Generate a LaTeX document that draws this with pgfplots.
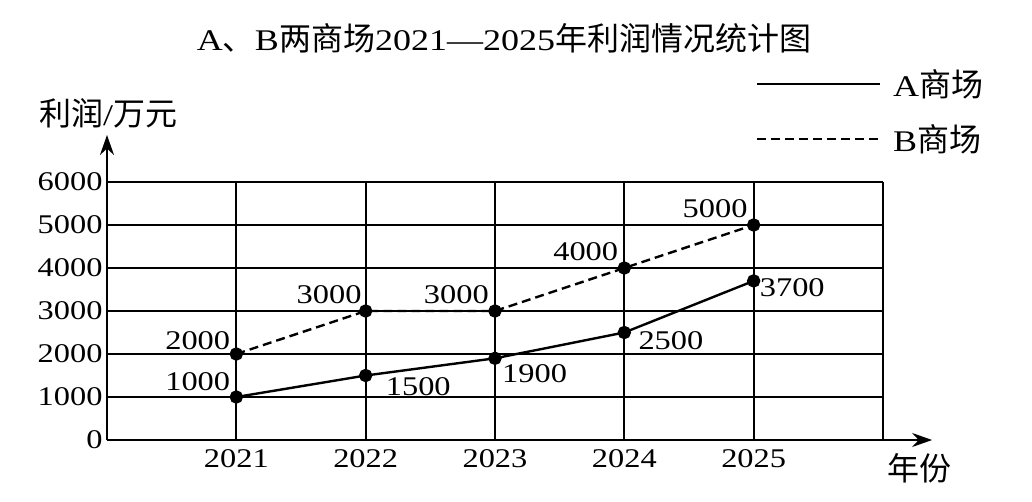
\documentclass[border=0pt]{standalone}
\usepackage{pgfplots}
\pgfplotsset{compat=1.18}
\usepackage{fontspec}
\setmainfont{Liberation Serif}
\newfontfamily\numfont{Liberation Serif}[FakeStretch=1.2]
\newfontfamily\cjk{Noto Sans CJK SC}
\usetikzlibrary{arrows.meta}
\newcommand{\nf}{\numfont\fontsize{27}{30}\selectfont}
\newcommand{\cf}{\cjk\fontsize{32}{35}\selectfont}
\begin{document}
\begin{tikzpicture}[x=1pt,y=1pt]
\path[use as bounding box] (-107,-61) rectangle (925,440);
\begin{axis}[
  at={(0,0)}, anchor=south west,
  x=129.33pt, y=0.043pt,
  xmin=0, xmax=6, ymin=0, ymax=6000,
  axis line style={draw=none},
  xtick={0,1,2,3,4,5,6},
  xticklabels={{},2021,2022,2023,2024,2025,{}},
  ytick={0,1000,2000,3000,4000,5000,6000},
  yticklabels={0,1000,2000,3000,4000,5000,6000},
  major tick length=0pt,
  grid=major,
  grid style={black, line width=2pt},
  ticklabel style={font=\nf, text=black},
  xticklabel style={yshift=-6pt},
  yticklabel style={xshift=-1pt},
  clip=false,
]
\draw[line width=2.2pt, -{Stealth[length=20pt,width=14pt]}] (axis cs:0,0) -- (axis cs:6.38,0);
\draw[line width=2.2pt, -{Stealth[length=20pt,width=14pt]}] (axis cs:0,0) -- (axis cs:0,7093);
\addplot[black, line width=2.4pt, mark=*, mark size=5.5pt] coordinates {
  (1,1000) (2,1500) (3,1900) (4,2500) (5,3700)};
\addplot[black, line width=2.4pt, dash pattern=on 9pt off 5pt, mark=*, mark size=5.5pt, mark options={solid}] coordinates {
  (1,2000) (2,3000) (3,3000) (4,4000) (5,5000)};
% value labels
\node[anchor=south east, font=\nf, inner sep=0pt] at ([shift={(-6pt,4pt)}]axis cs:1,2000) {2000};
\node[anchor=south east, font=\nf, inner sep=0pt] at ([shift={(-6pt,6pt)}]axis cs:1,1000) {1000};
\node[anchor=south east, font=\nf, inner sep=0pt] at ([shift={(-4pt,7pt)}]axis cs:2,3000) {3000};
\node[anchor=south east, font=\nf, inner sep=0pt] at ([shift={(-6pt,7pt)}]axis cs:3,3000) {3000};
\node[anchor=south east, font=\nf, inner sep=0pt] at ([shift={(-6pt,7pt)}]axis cs:4,4000) {4000};
\node[anchor=south east, font=\nf, inner sep=0pt] at ([shift={(-6pt,7pt)}]axis cs:5,5000) {5000};
\node[anchor=north west, font=\nf, inner sep=0pt] at ([shift={(20pt,-2pt)}]axis cs:2,1500) {1500};
\node[anchor=north west, font=\nf, inner sep=0pt] at ([shift={(7pt,-6pt)}]axis cs:3,1900) {1900};
\node[anchor=west, font=\nf, inner sep=0pt] at ([shift={(14pt,-8pt)}]axis cs:4,2500) {2500};
\node[anchor=west, font=\nf, inner sep=0pt] at ([shift={(6pt,-7pt)}]axis cs:5,3700) {3700};
\end{axis}
% title
\node[inner sep=0pt] at (397,402) {{\fontsize{30}{34}\numfont A}{\cf 、}{\fontsize{30}{34}\numfont B}{\cf 两商场}{\fontsize{30}{34}\numfont 2021—2025}{\cf 年利润情况统计图}};
% legend
\draw[line width=2.2pt] (650,356) -- (773,356);
\draw[line width=2.2pt, dash pattern=on 9pt off 5pt] (650,301) -- (773,301);
\node[anchor=west, inner sep=0pt] at (786,356) {{\fontsize{30}{34}\numfont A}{\cf 商场}};
\node[anchor=west, inner sep=0pt] at (786,301) {{\fontsize{30}{34}\numfont B}{\cf 商场}};
% axis labels
\node[anchor=west, inner sep=0pt] at (-68,327) {{\cf 利润}{\fontsize{30}{34}\numfont /}{\cf 万元}};
\node[anchor=west, inner sep=0pt] at (780,-28) {\cf 年份};
\end{tikzpicture}
\end{document}
